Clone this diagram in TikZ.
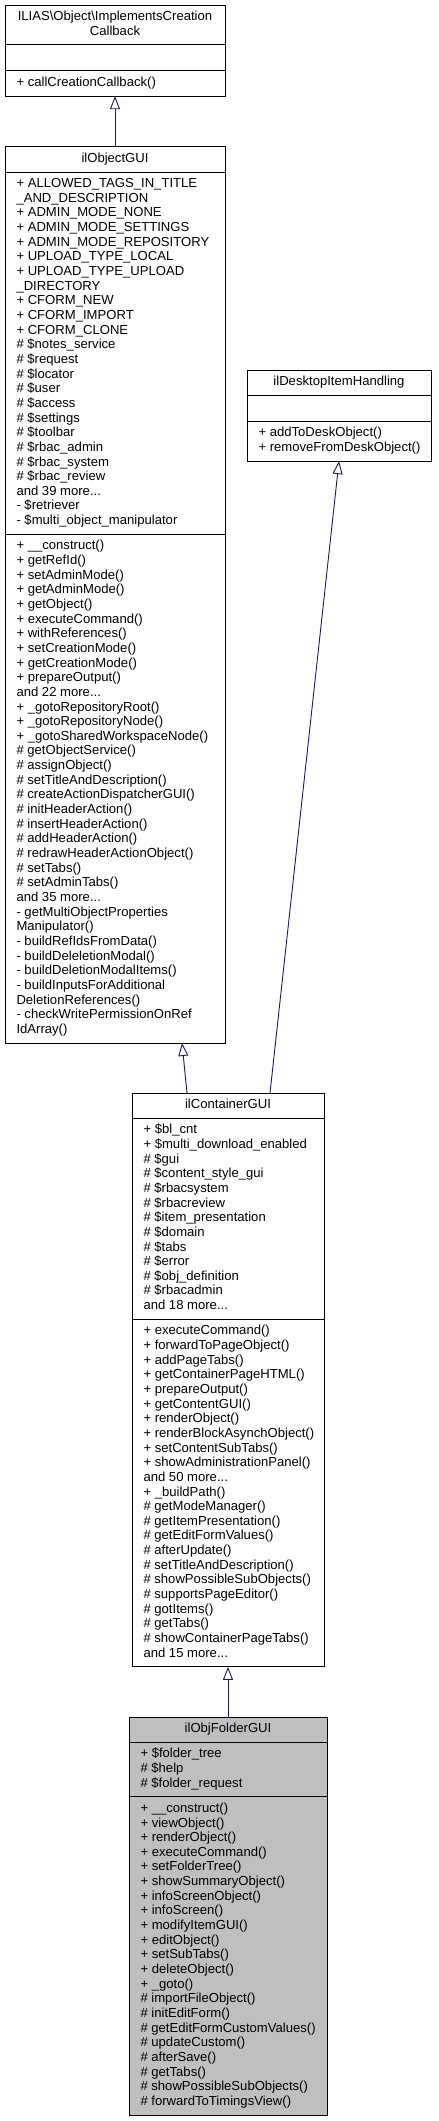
\documentclass[tikz,border=0pt]{standalone}
\usepackage{fontspec}
\setmainfont{Liberation Sans}
\usetikzlibrary{arrows.meta,calc}
\definecolor{edgeblue}{HTML}{191970}
\definecolor{hlgray}{HTML}{BFBFBF}
\begin{document}
\begin{tikzpicture}[x=1pt,y=-1pt,
  every node/.style={inner sep=0pt, outer sep=0pt},
  classbox/.style={draw=black, line width=0.9pt, anchor=north west},
  divider/.style={draw=black, line width=0.9pt},
  txt/.style={anchor=north west, align=left, font=\fontsize{13.1}{14.65}\selectfont},
  ttl/.style={anchor=north, align=center, font=\fontsize{13.1}{14.65}\selectfont},
  inh/.style={draw=edgeblue, line width=0.9pt, -{Triangle[open, length=13pt, width=10pt]}},
]
\useasboundingbox (0,0) rectangle (439,2121);

% ---------- ILIAS\Object\ImplementsCreationCallback ----------
\node[classbox, minimum width=220pt, minimum height=91.15pt] (cb) at (5,5) {};
\node[ttl] (cb-title) at (115,10.3) {\strut ILIAS\textbackslash Object\textbackslash ImplementsCreation\\Callback};
\draw[divider] (5,44.9) -- (225,44.9);
\draw[divider] (5,70.9) -- (225,70.9);
\node[txt] (cb-m) at (16.5,76.2) {\strut + callCreationCallback()};

% ---------- ilObjectGUI ----------
\node[classbox, minimum width=220pt, minimum height=896.15pt] (objgui) at (5,146.85) {};
\node[ttl] (objgui-title) at (115,152.15) {\strut ilObjectGUI};
\draw[divider] (5,172.1) -- (225,172.1);
\node[txt] (objgui-a) at (16.5,177.4) {\strut + ALLOWED\_TAGS\_IN\_TITLE\\
\_AND\_DESCRIPTION\\
+ ADMIN\_MODE\_NONE\\
+ ADMIN\_MODE\_SETTINGS\\
+ ADMIN\_MODE\_REPOSITORY\\
+ UPLOAD\_TYPE\_LOCAL\\
+ UPLOAD\_TYPE\_UPLOAD\\
\_DIRECTORY\\
+ CFORM\_NEW\\
+ CFORM\_IMPORT\\
+ CFORM\_CLONE\\
\# \$notes\_service\\
\# \$request\\
\# \$locator\\
\# \$user\\
\# \$access\\
\# \$settings\\
\# \$toolbar\\
\# \$rbac\_admin\\
\# \$rbac\_system\\
\# \$rbac\_review\\
and 39 more...\\
- \$retriever\\
- \$multi\_object\_manipulator};
\draw[divider] (5,534.3) -- (225,534.3);
\node[txt] (objgui-m) at (16.5,539.6) {\strut + \_\_construct()\\
+ getRefId()\\
+ setAdminMode()\\
+ getAdminMode()\\
+ getObject()\\
+ executeCommand()\\
+ withReferences()\\
+ setCreationMode()\\
+ getCreationMode()\\
+ prepareOutput()\\
and 22 more...\\
+ \_gotoRepositoryRoot()\\
+ \_gotoRepositoryNode()\\
+ \_gotoSharedWorkspaceNode()\\
\# getObjectService()\\
\# assignObject()\\
\# setTitleAndDescription()\\
\# createActionDispatcherGUI()\\
\# initHeaderAction()\\
\# insertHeaderAction()\\
\# addHeaderAction()\\
\# redrawHeaderActionObject()\\
\# setTabs()\\
\# setAdminTabs()\\
and 35 more...\\
- getMultiObjectProperties\\
Manipulator()\\
- buildRefIdsFromData()\\
- buildDeleletionModal()\\
- buildDeletionModalItems()\\
- buildInputsForAdditional\\
DeletionReferences()\\
- checkWritePermissionOnRef\\
IdArray()};

% ---------- ilDesktopItemHandling ----------
\node[classbox, minimum width=184pt, minimum height=91.15pt] (desk) at (247,370) {};
\node[ttl] (desk-title) at (339,375.3) {\strut ilDesktopItemHandling};
\draw[divider] (247,395.25) -- (431,395.25);
\draw[divider] (247,421.25) -- (431,421.25);
\node[txt] (desk-m) at (258.5,426.55) {\strut + addToDeskObject()\\
+ removeFromDeskObject()};

% ---------- ilContainerGUI ----------
\node[classbox, minimum width=192pt, minimum height=573.85pt] (contgui) at (132,1093) {};
\node[ttl] (contgui-title) at (228,1098.3) {\strut ilContainerGUI};
\draw[divider] (132,1118.25) -- (324,1118.25);
\node[txt] (contgui-a) at (143.5,1123.55) {\strut + \$bl\_cnt\\
+ \$multi\_download\_enabled\\
\# \$gui\\
\# \$content\_style\_gui\\
\# \$rbacsystem\\
\# \$rbacreview\\
\# \$item\_presentation\\
\# \$domain\\
\# \$tabs\\
\# \$error\\
\# \$obj\_definition\\
\# \$rbacadmin\\
and 18 more...};
\draw[divider] (132,1319.3) -- (324,1319.3);
\node[txt] (contgui-m) at (143.5,1324.6) {\strut + executeCommand()\\
+ forwardToPageObject()\\
+ addPageTabs()\\
+ getContainerPageHTML()\\
+ prepareOutput()\\
+ getContentGUI()\\
+ renderObject()\\
+ renderBlockAsynchObject()\\
+ setContentSubTabs()\\
+ showAdministrationPanel()\\
and 50 more...\\
+ \_buildPath()\\
\# getModeManager()\\
\# getItemPresentation()\\
\# getEditFormValues()\\
\# afterUpdate()\\
\# setTitleAndDescription()\\
\# showPossibleSubObjects()\\
\# supportsPageEditor()\\
\# gotItems()\\
\# getTabs()\\
\# showContainerPageTabs()\\
and 15 more...};

% ---------- ilObjFolderGUI ----------
\node[classbox, fill=hlgray, minimum width=198pt, minimum height=398.05pt] (folder) at (129,1717) {};
\node[ttl] (folder-title) at (228,1722.3) {\strut ilObjFolderGUI};
\draw[divider] (129,1742.25) -- (327,1742.25);
\node[txt] (folder-a) at (140.5,1747.55) {\strut + \$folder\_tree\\
\# \$help\\
\# \$folder\_request};
\draw[divider] (129,1796.8) -- (327,1796.8);
\node[txt] (folder-m) at (140.5,1802.1) {\strut + \_\_construct()\\
+ viewObject()\\
+ renderObject()\\
+ executeCommand()\\
+ setFolderTree()\\
+ showSummaryObject()\\
+ infoScreenObject()\\
+ infoScreen()\\
+ modifyItemGUI()\\
+ editObject()\\
+ setSubTabs()\\
+ deleteObject()\\
+ \_goto()\\
\# importFileObject()\\
\# initEditForm()\\
\# getEditFormCustomValues()\\
\# updateCustom()\\
\# afterSave()\\
\# getTabs()\\
\# showPossibleSubObjects()\\
\# forwardToTimingsView()};

% ---------- inheritance connectors ----------
\draw[inh] (objgui.north) -- (cb.south);
\draw[inh] ([xshift=55pt]contgui.north west) -- ([xshift=177pt]objgui.south west);
\draw[inh] ([xshift=138pt]contgui.north west) -- (desk.south);
\draw[inh] (folder.north) -- (contgui.south);
\end{tikzpicture}
\end{document}
